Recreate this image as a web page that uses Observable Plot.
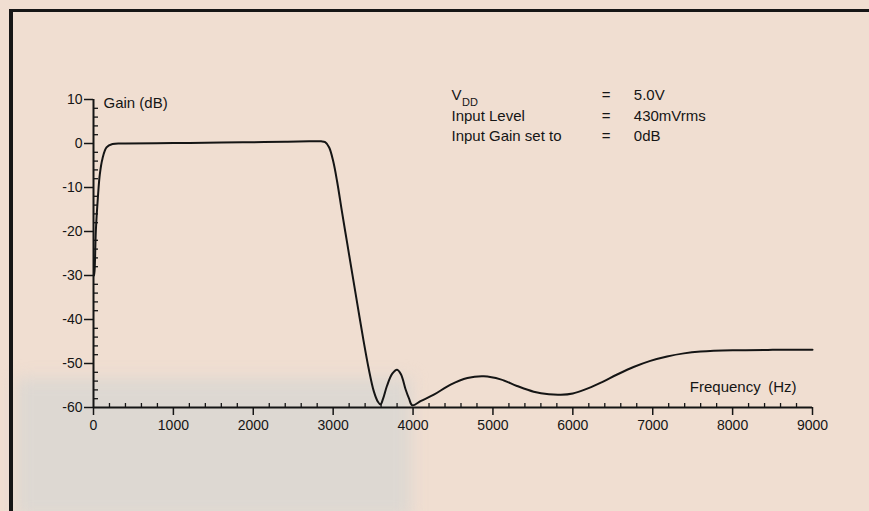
<!DOCTYPE html>
<html><head><meta charset="utf-8">
<script src="https://cdn.jsdelivr.net/npm/d3@7"></script>
<script src="https://cdn.jsdelivr.net/npm/@observablehq/plot@0.6"></script>
<style>
html,body{margin:0;padding:0;width:869px;height:511px;overflow:hidden;background:#f0ded1;}
#wrap{position:relative;width:869px;height:511px;overflow:hidden;}
#topbar{position:absolute;left:9px;top:9px;width:860px;height:3px;background:#161616;}
#leftbar{position:absolute;left:9px;top:9px;width:4px;height:502px;background:#161616;}
#shade{position:absolute;left:16px;top:378px;width:395px;height:140px;background:#ddd8d2;filter:blur(8px);}
#chart{position:absolute;left:0;top:0;}
</style></head><body>
<div id="wrap"><div id="shade"></div><div id="topbar"></div><div id="leftbar"></div><div id="chart"></div></div>
<script>
// Frequency response data
const freqHz = [5, 13, 29, 54, 79, 113, 163, 238, 400, 1000, 1600, 2000, 2400, 2700, 2850, 2900, 2950, 3000, 3050, 3110, 3175, 3240, 3310, 3380, 3445, 3510, 3560, 3592, 3625, 3675, 3740, 3800, 3850, 3905, 3950, 3990, 4100, 4260, 4470, 4680, 4885, 5095, 5300, 5510, 5700, 5850, 6000, 6140, 6345, 6555, 6760, 6970, 7180, 7390, 7600, 8000, 8500, 9000];
const gainDb = [-30, -29, -20, -12.5, -7, -3.4, -0.9, -0.1, 0, 0.1, 0.2, 0.3, 0.4, 0.5, 0.5, 0.3, -0.9, -4, -8.7, -15.5, -22.6, -29.7, -37.3, -44.8, -51.2, -56.4, -58.7, -59.3, -58, -55, -52.3, -51.4, -52.5, -55.8, -58, -59.5, -58.5, -57.1, -54.8, -53.3, -52.9, -53.6, -55.1, -56.4, -57, -57.1, -56.8, -56, -54.4, -52.5, -50.8, -49.4, -48.4, -47.7, -47.3, -47, -46.9, -46.9];

const xTicks = [0, 1000, 2000, 3000, 4000, 5000, 6000, 7000, 8000, 9000];
const xTickLabels = ["0", "1000", "2000", "3000", "4000", "5000", "6000", "7000", "8000", "9000"];
const yTicks = [-60, -50, -40, -30, -20, -10, 0, 10];
const yTickLabels = ["-60", "-50", "-40", "-30", "-20", "-10", "0", "10"];
const xMinorTicks = d3.range(0, 9001, 200).filter(v => v % 1000 !== 0);
const yMinorTicks = d3.range(-60, 10, 2).filter(v => v % 10 !== 0);

const infoLabels = ["V", "Input Level", "Input Gain set to"];
const infoEquals = ["=", "=", "="];
const infoValues = ["5.0V", "430mVrms", "0dB"];
const yAxisTitle = "Gain (dB)";
const xAxisTitle = "Frequency\u2002(Hz)";

const data = freqHz.map((f, i) => ({f, g: gainDb[i]}));
const infoY = [10.9, 6.1, 1.7];
const info = infoLabels.map((l, i) => ({label: l, eq: infoEquals[i], value: infoValues[i], y: infoY[i]}));

const ink = "#151515";
const chart = Plot.plot({
  width: 869,
  height: 511,
  marginLeft: 93,
  marginRight: 57,
  marginTop: 99,
  marginBottom: 104,
  style: {background: "transparent", fontFamily: "'Liberation Sans', Arial, sans-serif", fontSize: "14px", color: ink},
  x: {domain: [0, 9000]},
  y: {domain: [-60, 10]},
  marks: [
    Plot.axisX(xTicks, {tickSize: 8, tickPadding: 5, tickFormat: (d) => xTickLabels[xTicks.indexOf(d)], fontSize: 14, label: null, strokeWidth: 1.5}),
    Plot.axisX(xMinorTicks, {tickSize: 4, dy: -4, text: null, label: null, strokeWidth: 1.3}),
    Plot.axisY(yTicks, {tickSize: 9, tickPadding: 2, tickFormat: (d) => yTickLabels[yTicks.indexOf(d)], fontSize: 14, label: null, strokeWidth: 1.5}),
    Plot.axisY(yMinorTicks, {tickSize: 5, dx: 5, text: null, label: null, strokeWidth: 1.3}),
    Plot.ruleY([-60], {x1: 0, x2: 9000, stroke: ink, strokeWidth: 2}),
    Plot.ruleX([0], {y1: -60, y2: 10, stroke: ink, strokeWidth: 2}),
    Plot.line(data, {x: "f", y: "g", stroke: ink, strokeWidth: 2, curve: "catmull-rom"}),
    Plot.text([yAxisTitle], {x: 125, y: 9.2, text: d => d, textAnchor: "start", fontSize: 15, fill: ink}),
    Plot.text([xAxisTitle], {x: 8800, y: -55.4, text: d => d, textAnchor: "end", fontSize: 15, fill: ink}),
    Plot.text(info, {x: 4481, y: "y", text: "label", textAnchor: "start", fontSize: 15, fill: ink}),
    Plot.text(["DD"], {x: 4612, y: 9.4, text: d => d, textAnchor: "start", fontSize: 11, fill: ink}),
    Plot.text(info, {x: 6417, y: "y", text: "eq", textAnchor: "middle", fontSize: 15, fill: ink}),
    Plot.text(info, {x: 6763, y: "y", text: "value", textAnchor: "start", fontSize: 15, fill: ink})
  ]
});
document.getElementById("chart").appendChild(chart);
</script>
</body></html>
